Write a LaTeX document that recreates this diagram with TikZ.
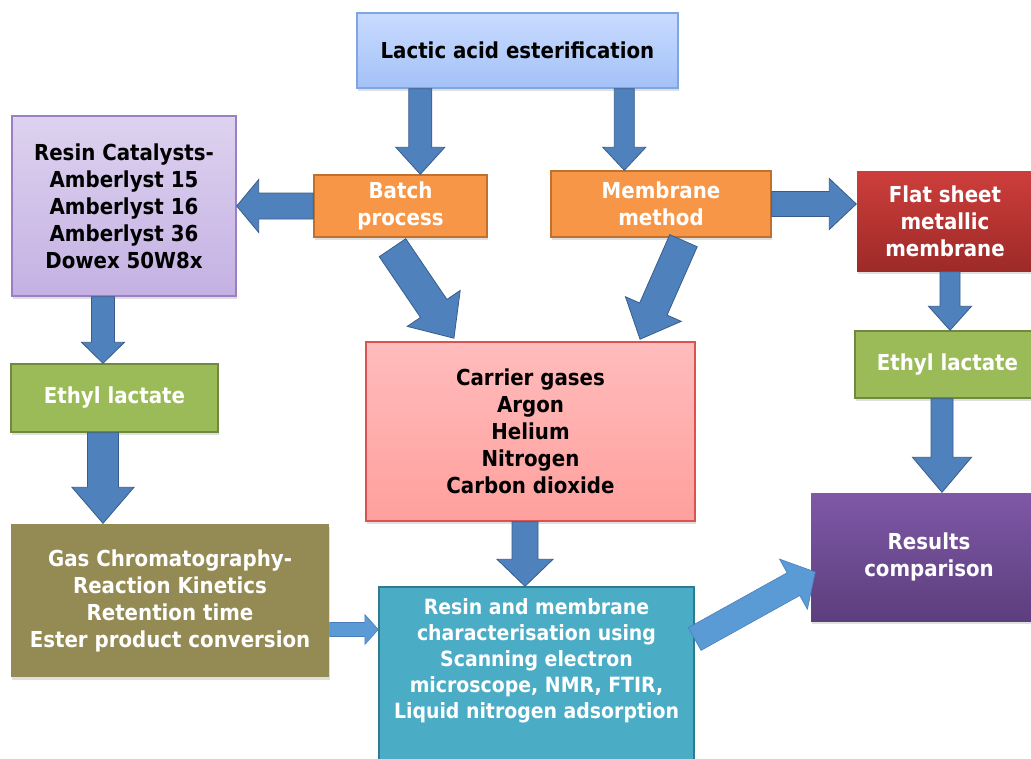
\documentclass[tikz,border=0pt]{standalone}
\usepackage{fontspec}
\setmainfont{DejaVu Sans Condensed}
\usetikzlibrary{calc,shadows}

\tikzset{
  stepbox/.style={shape=rectangle,draw,line width=1.4pt,align=center,inner sep=2pt,
    font=\bfseries\fontsize{22}{27}\selectfont,
    drop shadow={shadow xshift=1pt,shadow yshift=-3pt,opacity=0.25}},
  darktext/.style={text=black},
  lighttext/.style={text=white},
  bluebox/.style={stepbox,darktext,top color=ester_top,bottom color=ester_bot,draw=ester_line},
  lilacbox/.style={stepbox,darktext,top color=resin_top,bottom color=resin_bot,draw=resin_line},
  orangebox/.style={stepbox,lighttext,fill=method_fill,draw=method_line},
  redbox/.style={stepbox,lighttext,top color=flat_top,bottom color=flat_bot,draw=none},
  greenbox/.style={stepbox,lighttext,fill=ethyl_fill,draw=ethyl_line},
  pinkbox/.style={stepbox,darktext,top color=gas_top,bottom color=gas_bot,draw=gas_line},
  olivebox/.style={stepbox,lighttext,fill=chrom_fill,draw=none},
  tealbox/.style={stepbox,lighttext,fill=char_fill,draw=char_line},
  purplebox/.style={stepbox,lighttext,top color=res_top,bottom color=res_bot,draw=none},
  blockarrow/.style={fill=arrow_fill,draw=arrow_line,line width=0.8pt,line join=miter},
  lightarrow/.style={fill=arrow_light,draw=arrow_lightline,line width=0.6pt},
}

% block arrow: [style]{from}{to}{half shaft}{half head}{head length}
\newcommand{\fatarrow}[6][]{%
  \draw[blockarrow,#1] let \p1=(#2), \p2=(#3),
    \n1={atan2(\y2-\y1,\x2-\x1)}, \n2={veclen(\x2-\x1,\y2-\y1)} in
    [shift={(\p1)},rotate=\n1]
    (0,-#4) -- ({\n2-#6},-#4) -- ({\n2-#6},-#5) -- (\n2,0)
    -- ({\n2-#6},#5) -- ({\n2-#6},#4) -- (0,#4) -- cycle;}

\begin{document}
\begin{tikzpicture}[x=1pt,y=1pt]
\definecolor{ester_top}{RGB}{201,219,255}
\definecolor{ester_bot}{RGB}{163,193,247}
\definecolor{ester_line}{RGB}{126,166,224}
\definecolor{resin_top}{RGB}{221,210,239}
\definecolor{resin_bot}{RGB}{196,177,227}
\definecolor{resin_line}{RGB}{154,127,196}
\definecolor{method_fill}{RGB}{247,150,70}
\definecolor{method_line}{RGB}{192,113,46}
\definecolor{flat_top}{RGB}{205,62,59}
\definecolor{flat_bot}{RGB}{157,42,40}
\definecolor{ethyl_fill}{RGB}{155,187,89}
\definecolor{ethyl_line}{RGB}{113,137,63}
\definecolor{gas_top}{RGB}{255,188,188}
\definecolor{gas_bot}{RGB}{255,160,157}
\definecolor{gas_line}{RGB}{217,83,79}
\definecolor{chrom_fill}{RGB}{148,138,84}
\definecolor{char_fill}{RGB}{75,172,198}
\definecolor{char_line}{RGB}{47,124,146}
\definecolor{res_top}{RGB}{127,88,166}
\definecolor{res_bot}{RGB}{92,62,125}
\definecolor{arrow_fill}{RGB}{79,129,189}
\definecolor{arrow_line}{RGB}{56,93,138}
\definecolor{arrow_light}{RGB}{91,155,213}
\definecolor{arrow_lightline}{RGB}{74,126,187}

\useasboundingbox (0,0) rectangle (1031,-758);
\fill[white] (0,0) rectangle (1031,-758);

\node[bluebox,minimum width=321pt,minimum height=75pt] (ester) at (517.5,-50.5) {Lactic acid esterification};
\node[lilacbox,minimum width=224pt,minimum height=180pt] (resin) at (124,-206) {Resin Catalysts-\\Amberlyst 15\\Amberlyst 16\\Amberlyst 36\\Dowex 50W8x};
\node[orangebox,minimum width=173pt,minimum height=62pt] (batch) at (400.5,-206) {Batch\\process};
\node[orangebox,minimum width=220pt,minimum height=66pt] (membr) at (661,-204) {Membrane\\method};
\node[redbox,minimum width=176pt,minimum height=100pt] (flat) at (945,-221) {Flat sheet\\metallic\\membrane};
\node[greenbox,minimum width=207pt,minimum height=68pt] (ethylL) at (114.5,-398) {Ethyl lactate};
\node[greenbox,minimum width=185pt,minimum height=67pt] (ethylR) at (947.5,-364.5) {Ethyl lactate};
\node[pinkbox,minimum width=329pt,minimum height=179pt] (carrier) at (530.5,-431.5) {Carrier gases\\Argon\\Helium\\Nitrogen\\Carbon dioxide};
\node[olivebox,minimum width=318pt,minimum height=153pt] (chrom) at (170,-600.5) {Gas Chromatography-\\Reaction Kinetics\\Retention time\\Ester product conversion};
\node[tealbox,minimum width=315pt,minimum height=190pt,
  label={[lighttext,anchor=north,align=center,yshift=-9pt,font=\bfseries\fontsize{21}{26}\selectfont]north:Resin and membrane\\characterisation using\\Scanning electron\\microscope, NMR, FTIR,\\Liquid nitrogen adsorption}] (charact) at (536.5,-682) {};
\node[purplebox,minimum width=236pt,minimum height=128pt] (results) at (929,-557) {Results\\comparison};

% arrows
\coordinate (a1) at ([xshift=64pt]ester.south west);
\coordinate (a2) at ([xshift=268pt]ester.south west);
\coordinate (a5) at ([xshift=-21pt]resin.south);
\coordinate (a6) at ([xshift=-11.5pt]ethylL.south);
\coordinate (a9) at ([xshift=5pt]flat.south);
\coordinate (a10) at ([xshift=-5.5pt]ethylR.south);
\coordinate (a11) at ([xshift=-5.5pt]carrier.south);
\coordinate (a12) at ([yshift=-29pt]chrom.east);

\fatarrow{a1}{a1 |- batch.north}{11.5}{24.5}{27}
\fatarrow{a2}{a2 |- membr.north}{10}{21.5}{23}
\fatarrow{batch.west}{resin.east |- batch.west}{13}{26.5}{22}
\fatarrow{membr.east}{flat.west |- membr.east}{12.5}{25.5}{27}
\fatarrow{a5}{a5 |- ethylL.north}{11.5}{21.5}{21}
\fatarrow{a6}{a6 |- chrom.north}{15.5}{31}{36}
\fatarrow{[xshift=-8pt,yshift=-10pt]batch.south}{[xshift=-76.5pt,yshift=3pt]carrier.north}{16}{32}{36}
\fatarrow{[xshift=22.5pt,yshift=-3pt]membr.south}{[xshift=109.5pt,yshift=2pt]carrier.north}{15}{30.5}{33}
\fatarrow{a9}{a9 |- ethylR.north}{10}{21.5}{24}
\fatarrow{a10}{a10 |- results.north}{11}{29.5}{35}
\fatarrow{a11}{a11 |- charact.north}{13}{28}{27}
\fatarrow[lightarrow]{a12}{charact.west |- a12}{7}{15}{13.5}
\fatarrow[lightarrow]{[yshift=43pt]charact.east}{[xshift=5pt,yshift=-15pt]results.west}{13}{28.7}{25}
\end{tikzpicture}
\end{document}
